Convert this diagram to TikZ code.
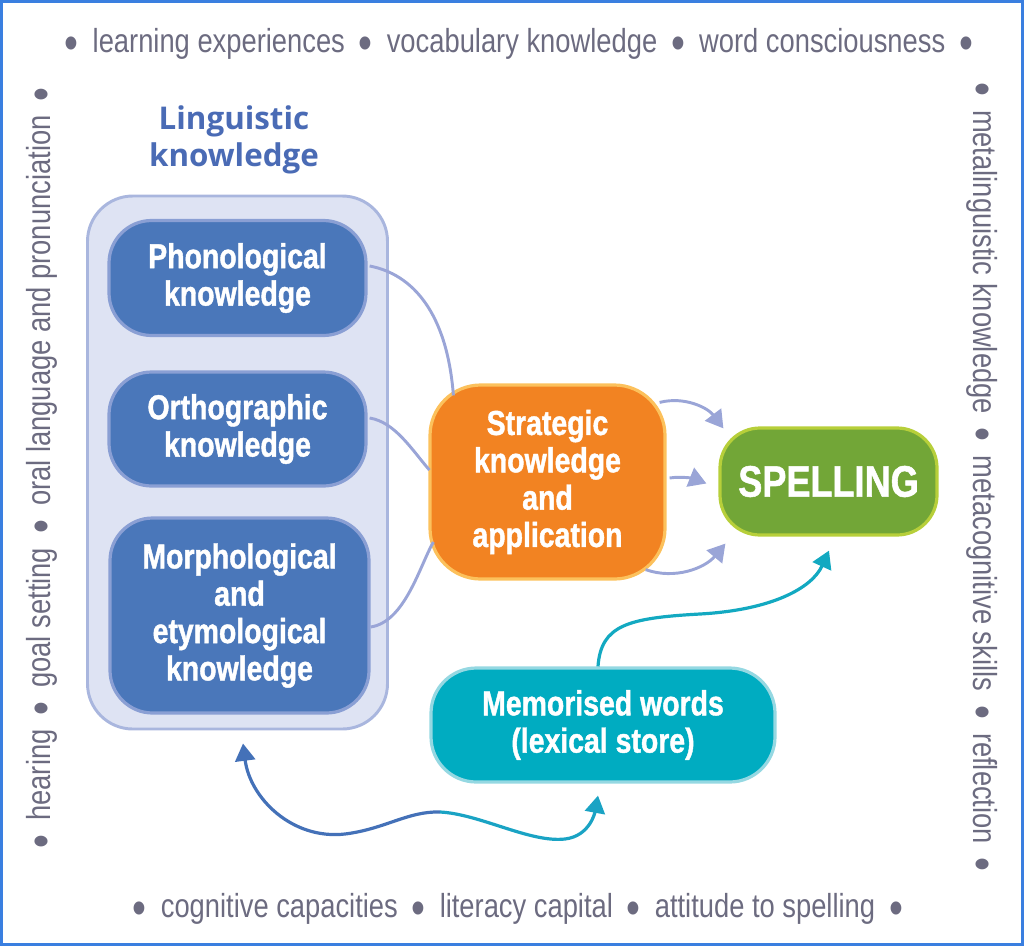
\documentclass[tikz,border=0pt]{standalone}
\usepackage{fontspec}
\setmainfont{Liberation Sans}
\newfontfamily\boxfont[FakeStretch=0.82,FakeBold=1.2]{Liberation Sans}
\newfontfamily\perifont[FakeStretch=0.82]{Liberation Sans}
\newfontfamily\headfont{Open Sans}
\usetikzlibrary{arrows.meta,calc}
\definecolor{framecol}{HTML}{3A7FE0}
\definecolor{peritext}{HTML}{6C6B80}
\definecolor{headcol}{HTML}{4A6BB5}
\definecolor{lkfill}{HTML}{DEE3F3}
\definecolor{lkline}{HTML}{A9B6DE}
\definecolor{bluefill}{HTML}{4A77BA}
\definecolor{blueline}{HTML}{8A9FD4}
\definecolor{orfill}{HTML}{F28322}
\definecolor{orline}{HTML}{FCC15C}
\definecolor{grfill}{HTML}{72A637}
\definecolor{grline}{HTML}{B7CF3A}
\definecolor{tlfill}{HTML}{00ACC1}
\definecolor{tlline}{HTML}{95D8E2}
\definecolor{conncol}{HTML}{9AA5D7}
\definecolor{tealarrow}{HTML}{13A9C1}
\definecolor{darrowL}{HTML}{4471B8}
\definecolor{darrowR}{HTML}{1AA3C4}
\newcommand\bul{\hspace{0.42em}\raisebox{-0.2em}{\scalebox{1.45}{\char"2022}}\hspace{0.42em}}
\begin{document}
\begin{tikzpicture}[x=0.75pt,y=-0.75pt,
  peri/.style={inner sep=0pt, text=peritext, font=\perifont\fontsize{25}{29}\selectfont},
  head/.style={inner sep=0pt, align=center, text=headcol, font=\headfont\bfseries\fontsize{23.5}{28}\selectfont},
  boxbase/.style={inner sep=0pt, align=center, text=white, line width=2.4pt, font=\boxfont\bfseries\fontsize{26}{28}\selectfont},
  bluebox/.style={boxbase, fill=bluefill, draw=blueline, rounded corners=32pt, minimum width=192.75pt},
  conn/.style={draw=conncol, line width=2.2pt},
  connarrow/.style={conn, -{Triangle[length=13pt,width=15pt]}},
  frame/.style={draw=framecol, line width=2.4pt}
]
\useasboundingbox (0,0) rectangle (1024,946);
\draw[frame] (1.6,1.6) rectangle (1022.4,944.4);

% perimeter texts
\node[peri] (toptext) at (512,44) {\bul learning experiences\bul vocabulary knowledge\bul word consciousness\bul};
\node[peri] (bottext) at (511,909) {\bul cognitive capacities\bul literacy capital\bul attitude to spelling\bul};
\node[peri, rotate=90] (lefttext) at (42,475) {\bul hearing\bul goal setting\bul oral language and pronunciation\bul};
\node[peri, rotate=-90] (righttext) at (982,470) {\bul metalinguistic knowledge\bul metacognitive skills\bul reflection\bul};

% heading
\node[head] (lkhead) at (234,140) {Linguistic\\knowledge};

% linguistic knowledge container
\node[fill=lkfill, draw=lkline, line width=2.2pt, rounded corners=34pt,
      minimum width=225pt, minimum height=399.75pt, inner sep=0pt] (lk) at (237.5,462.5) {};

\node[bluebox, minimum height=86.25pt] (phon) at (237.5,278) {Phonological\\knowledge};
\node[bluebox, minimum height=85.5pt] (orth) at (237.5,429) {Orthographic\\knowledge};
\node[bluebox, minimum width=194.25pt, minimum height=146.25pt] (morph) at (239.5,615.5) {Morphological\\and\\etymological\\knowledge};

\node[boxbase, fill=orfill, draw=orline, rounded corners=38pt,
      minimum width=176.25pt, minimum height=145.5pt] (strat) at (547.5,482) {Strategic\\knowledge\\and\\application};

\node[boxbase, fill=grfill, draw=grline, rounded corners=30pt,
      minimum width=162.75pt, minimum height=80.25pt,
      font=\boxfont\bfseries\fontsize{33}{36}\selectfont] (spell) at (828.5,481.5) {SPELLING};

\node[boxbase, fill=tlfill, draw=tlline, rounded corners=34pt,
      minimum width=258pt, minimum height=85.5pt] (mem) at (603,725) {Memorised words\\(lexical store)};

% connectors into strategic box
\draw[conn] ($(phon.east)+(2,-12)$) .. controls (412,274) and (447,312) .. ($(strat.north west)+(25,12)$);
\draw[conn] ($(orth.east)+(2,-11)$) .. controls (395,422) and (412,450) .. ($(strat.west)+(1,-12)$);
\draw[conn] ($(morph.east)+(0,11.5)$) .. controls (405,622) and (420,565) .. ($(strat.west)+(5,60)$);

% strategic to spelling
\draw[connarrow] ($(strat.north east)+(-7,19)$) .. controls (685,396) and (708,408) .. ($(spell.north west)+(5,2)$);
\draw[connarrow] ($(strat.east)+(3,-4)$) .. controls (682,476) and (695,479) .. ($(spell.west)+(-12,2)$);
\draw[connarrow] ($(strat.south east)+(-21,-11)$) .. controls (675,580) and (705,568) .. ($(spell.south west)+(7,7)$);

% memorised to spelling
\draw[draw=tealarrow, line width=2.4pt, -{Triangle[length=13pt,width=15pt]}]
  ($(mem.north)+(-5,0)$) .. controls (601,625) and (628,618) .. (700,614)
  .. controls (772,610) and (812,588) .. ($(spell.south)+(0.5,14)$);

% double arrow linguistic <-> memorised
\coordinate (wave) at (440,812);
\draw[draw=darrowL, line width=2.4pt, {Triangle[length=13pt,width=15pt]}-]
  ($(lk.south)+(5.5,13)$) .. controls (250,798) and (292,840) .. (345,834)
  .. controls (385,829) and (408,811) .. (wave);
\draw[draw=darrowR, line width=2.4pt, -{Triangle[length=13pt,width=15pt]}]
  (wave) .. controls (480,814) and (530,843) .. (565,839)
  .. controls (590,836) and (595,812) .. ($(mem.south)+(-5,12)$);
\end{tikzpicture}
\end{document}
